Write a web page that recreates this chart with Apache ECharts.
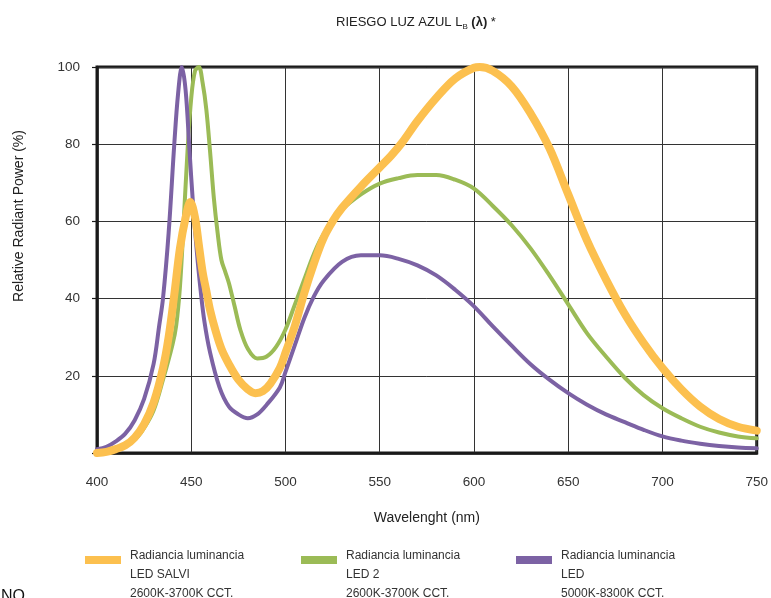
<!DOCTYPE html>
<html>
<head>
<meta charset="utf-8">
<script src="https://cdn.jsdelivr.net/npm/echarts@6/dist/echarts.min.js"></script>
<style>
html,body{margin:0;padding:0;background:#fff;}
#chart{width:771px;height:598px;}
</style>
</head>
<body>
<div id="chart"></div>
<script>
// ---- data ----
const xTicks = [400, 450, 500, 550, 600, 650, 700, 750];
const yTicks = [0, 20, 40, 60, 80, 100];

const seriesNames = ['LED SALVI', 'LED 2', 'LED'];
const legendLines = [
  ['Radiancia luminancia', 'LED SALVI', '2600K-3700K CCT.'],
  ['Radiancia luminancia', 'LED 2', '2600K-3700K CCT.'],
  ['Radiancia luminancia', 'LED', '5000K-8300K CCT.']
];

const salviX = [400,405,410,415,420,425,430,435,438,441,444,447,449.5,452,454,456,458,460,463,466,470,475,480,484,488,492,497,500,505,510,515,520,525,530,540,550,556,562,570,580,590,600,603,610,620,630,640,650,660,670,680,690,700,710,720,730,740,750];
const salviY = [0,0.3,1,2,4,7.5,13,22,30,41,53,61,65,61,54,47,42,37,31.5,27,23,19,16.5,15.5,16,18,22,26,33,41.5,49,55.5,60,63.5,69,74,77,80.5,86,92,97,99.8,100,99,95,88,79,67,55,45,36,28.5,22,16.5,12,8.8,6.8,5.8];

const led2X = [400,410,420,425,430,435,440,442,444,446,448,450,452,454,456,458,460,462,464,466,468,470,473,476,480,485,490,495,500,505,510,515,520,530,540,550,560,570,580,590,600,610,620,630,640,650,660,670,680,690,700,710,720,730,740,750];
const led2Y = [0,0.8,3.5,6.5,11,19,28,33,43,60,78,92,99,100,96,89,78,66,57,50,47,44,38,32,27,24.5,25,27.5,32,38.5,45,51.5,56.5,63,67,69.8,71.2,72,72,70.8,68.5,64,59,53,46,38.5,31,25,19.5,15,11.6,9,6.8,5.3,4.3,3.8];

const ledX = [400,405,410,415,420,425,430,433,435,438,441,443,445,447,449,451,453,455,457,460,465,470,475,480,485,490,497,500,505,510,515,520,530,540,550,560,570,580,590,600,610,620,630,640,650,660,670,680,690,700,710,720,730,740,750];
const ledY = [1,1.6,3,5,8.5,14,23,33,40,57,80,93,100,94,79,64,52,42,34,26,17,12,10,9,10,12.5,17,21,28,35,40.5,44.5,49.5,51.2,51.2,50.3,48.6,46,42.3,38,32.8,27.8,23,19,15.5,12.5,10,8,6,4.3,3.2,2.4,1.8,1.4,1.2];

const colors = ['#FCC04F', '#9BBB56', '#7C62A4'];
const widths = [8, 4, 4];

// ---- chart ----
const chart = echarts.init(document.getElementById('chart'), null, {renderer: 'canvas'});
const font = 'Liberation Sans, Arial, sans-serif';

function pairs(xs, ys) { return xs.map((x, i) => [x, ys[i]]); }
const dataSets = [pairs(salviX, salviY), pairs(led2X, led2Y), pairs(ledX, ledY)];

const drawOrder = [1, 2, 0];
const series = drawOrder.map((k, j) => ({
  name: seriesNames[k],
  type: 'line',
  data: dataSets[k],
  smooth: 0.35,
  showSymbol: false,
  z: 3 + j,
  lineStyle: {color: colors[k], width: widths[k], cap: 'round', join: 'round'},
  itemStyle: {color: colors[k]}
}));

const legendGraphics = [];
const legendX = [85, 301, 516];
legendLines.forEach((lines, k) => {
  legendGraphics.push({
    type: 'rect', left: legendX[k], top: 556,
    shape: {width: 36, height: 8},
    style: {fill: colors[k]}
  });
  legendGraphics.push({
    type: 'text', left: legendX[k] + 45, top: 546,
    style: {text: lines.join('\n'), font: '12px ' + font, fill: '#333', lineHeight: 19}
  });
});

const option = {
  backgroundColor: '#fff',
  animation: false,
  title: {
    text: 'RIESGO LUZ AZUL L{sub|B} {lam|(λ)} *',
    left: 331, top: 8,
    textStyle: {
      fontFamily: font, fontSize: 13, fontWeight: 'normal', color: '#222',
      rich: {
        sub: {fontSize: 8, fontFamily: font, color: '#222', padding: [10, 0, 0, 0]},
        lam: {fontSize: 13, fontFamily: font, color: '#222', fontWeight: 'bold'}
      }
    }
  },
  grid: {left: 97, right: 12, top: 67, bottom: 145, show: true, borderColor: '#1a1a1a', borderWidth: 3, backgroundColor: 'transparent'},
  xAxis: {
    type: 'value', min: xTicks[0], max: xTicks[xTicks.length - 1], interval: 50,
    name: 'Wavelenght (nm)', nameLocation: 'middle', nameGap: 58,
    nameTextStyle: {fontFamily: font, fontSize: 14, color: '#222'},
    axisLine: {lineStyle: {color: '#1a1a1a', width: 2.5}},
    axisTick: {show: false},
    axisLabel: {fontFamily: font, fontSize: 13.5, color: '#333', margin: 22},
    splitLine: {lineStyle: {color: '#333', width: 1}}
  },
  yAxis: {
    type: 'value', min: yTicks[0], max: yTicks[yTicks.length - 1], interval: 20,
    axisLine: {show: true, lineStyle: {color: '#1a1a1a', width: 2.5}},
    axisTick: {show: true, length: 5, lineStyle: {color: '#1a1a1a', width: 1.2}},
    axisLabel: {fontFamily: font, fontSize: 13.5, color: '#333', margin: 17,
      formatter: v => (v === 0 ? '' : String(v))},
    splitLine: {lineStyle: {color: '#333', width: 1}}
  },
  graphic: [
    {type: 'text', x: 19, y: 216, rotation: Math.PI / 2,
     style: {text: 'Relative Radiant Power (%)', font: '14px ' + font, fill: '#222', textAlign: 'center', textVerticalAlign: 'middle'}},
    {type: 'text', left: 1, top: 589, style: {text: 'NO', font: '16px ' + font, fill: '#111'}}
  ].concat(legendGraphics),
  series: series
};
chart.setOption(option);
</script>
</body>
</html>
